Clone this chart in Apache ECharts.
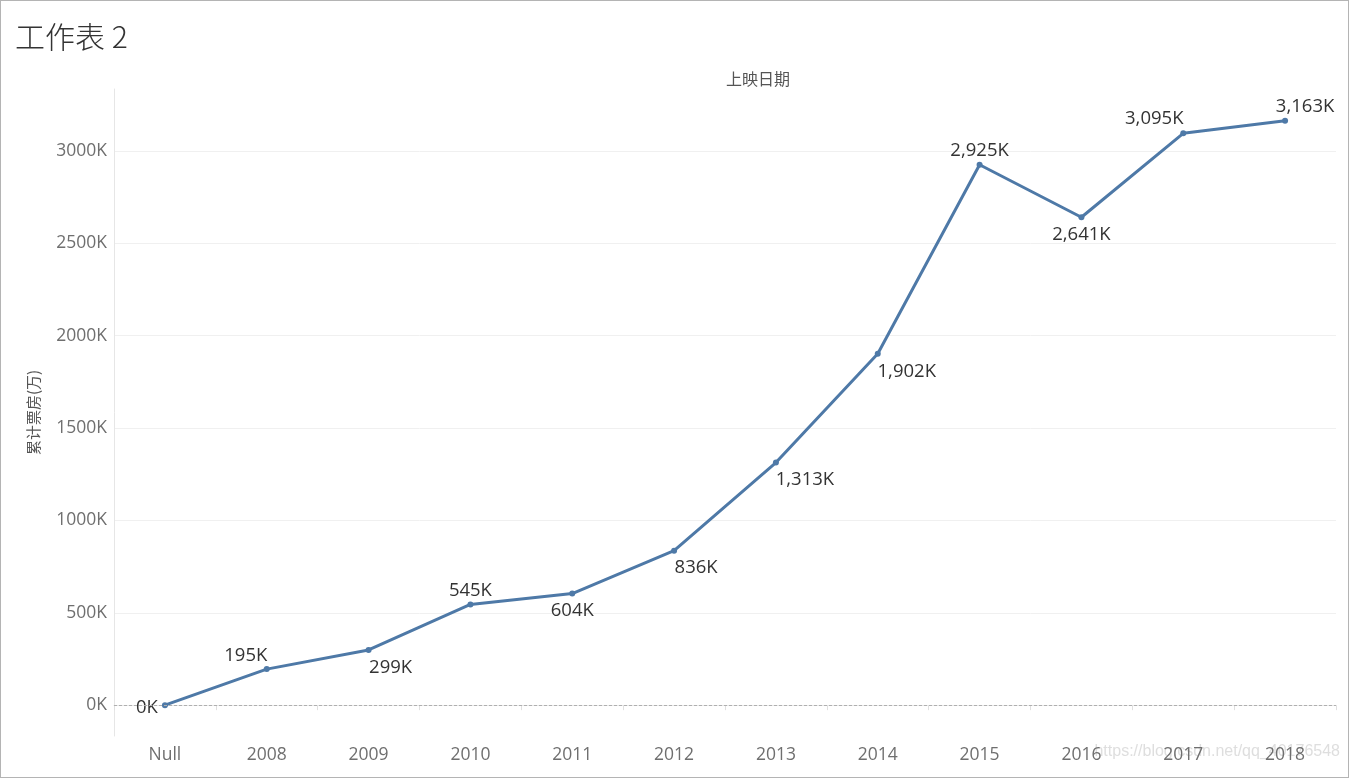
<!DOCTYPE html>
<html><head><meta charset="utf-8">
<script src="https://cdn.jsdelivr.net/npm/echarts@6/dist/echarts.min.js"></script>
<style>
html,body{margin:0;padding:0;background:#fff;}
#wrap{position:absolute;left:0;top:0;width:1347px;height:776px;border:1px solid #b4b4b4;}
#c{width:1347px;height:776px;}
</style></head>
<body><div id="wrap"><div id="c"></div></div>
<script>
const categories = ['Null','2008','2009','2010','2011','2012','2013','2014','2015','2016','2017','2018'];
const boxOffice = [0,195,299,545,604,836,1313,1902,2925,2641,3095,3163];
const yTickValues = [0,500,1000,1500,2000,2500,3000];

// label placement per point (style only)
const labelPlace = [
  {position:'left', distance:4, offset:[0,3]},
  {position:'top', distance:1, offset:[-21,0]},
  {position:'bottom', distance:5, offset:[22,0]},
  {position:'top', distance:1, offset:[0,0]},
  {position:'bottom', distance:5, offset:[0,0]},
  {position:'bottom', distance:5, offset:[22,0]},
  {position:'bottom', distance:5, offset:[29,0]},
  {position:'bottom', distance:5, offset:[29,0]},
  {position:'top', distance:2, offset:[0,0]},
  {position:'bottom', distance:5, offset:[0,0]},
  {position:'top', distance:2, offset:[-29,0]},
  {position:'top', distance:2, offset:[20,0]}
];

const fmtK = v => v.toLocaleString('en-US') + 'K';
const FONT = '"Open Sans", "Noto Sans", sans-serif';

const chart = echarts.init(document.getElementById('c'), null, {renderer:'canvas'});
chart.setOption({
  backgroundColor:'#fff',
  animation:false,
  title:[
    {text:'工作表 2', left:9, top:16, textStyle:{fontFamily:'"Noto Sans CJK SC"', fontWeight:300, fontSize:30, color:'#333'}}
  ],
  grid:{left:113, right:12, top:88, bottom:41, containLabel:false},
  xAxis:{
    type:'category', data:categories, boundaryGap:true,
    axisLine:{show:true, lineStyle:{color:'#e6e6e6', width:1}},
    axisTick:{show:true, length:5, lineStyle:{color:'#e0e0e0'}},
    axisLabel:{color:'#6f6f6f', fontFamily:FONT, fontSize:17.5, margin:10},
    splitLine:{show:false}
  },
  yAxis:{
    type:'value', min:-167, max:3335, splitNumber:7,
    name:'累计票房(万)', nameLocation:'middle', nameGap:73, nameRotate:90,
    nameTextStyle:{fontFamily:'"Noto Sans CJK SC"', fontSize:15, color:'#555'},
    axisLine:{show:true, lineStyle:{color:'#e6e6e6'}},
    axisTick:{show:false},
    axisLabel:{color:'#6f6f6f', fontFamily:FONT, fontSize:17.5, margin:7, showMinLabel:false, showMaxLabel:false,
      formatter: v => yTickValues.includes(v) ? v + 'K' : ''},
    splitLine:{show:true, showMinLine:false, showMaxLine:false, lineStyle:{color:'#f0f0f0', width:1}}
  },
  series:[{
    type:'line',
    data: boxOffice.map((v,i)=>({value:v, label:labelPlace[i]})),
    symbol:'circle', symbolSize:6,
    lineStyle:{color:'#4e79a7', width:3},
    itemStyle:{color:'#4e79a7'},
    label:{show:true, color:'#333', fontFamily:FONT, fontSize:18.5, formatter:p=>fmtK(p.value)},
    markLine:{silent:true, symbol:'none', label:{show:false},
      lineStyle:{color:'#b0b0b0', type:[3,2], width:1},
      data:[{yAxis:0}]},
    z:3
  }],
  graphic:[
    {type:'text', left:725, top:70, z:5,
      style:{text:'上映日期', align:'center', fontFamily:'"Noto Sans CJK SC"', fontSize:16, fill:'#555'}},
    {type:'text', right:8, top:743, z:0,
      style:{text:'https://blog.csdn.net/qq_40176548', fontFamily:'Arial, "Liberation Sans", sans-serif', fontSize:16, fill:'rgba(200,200,200,0.6)'}}]
});
</script></body></html>
